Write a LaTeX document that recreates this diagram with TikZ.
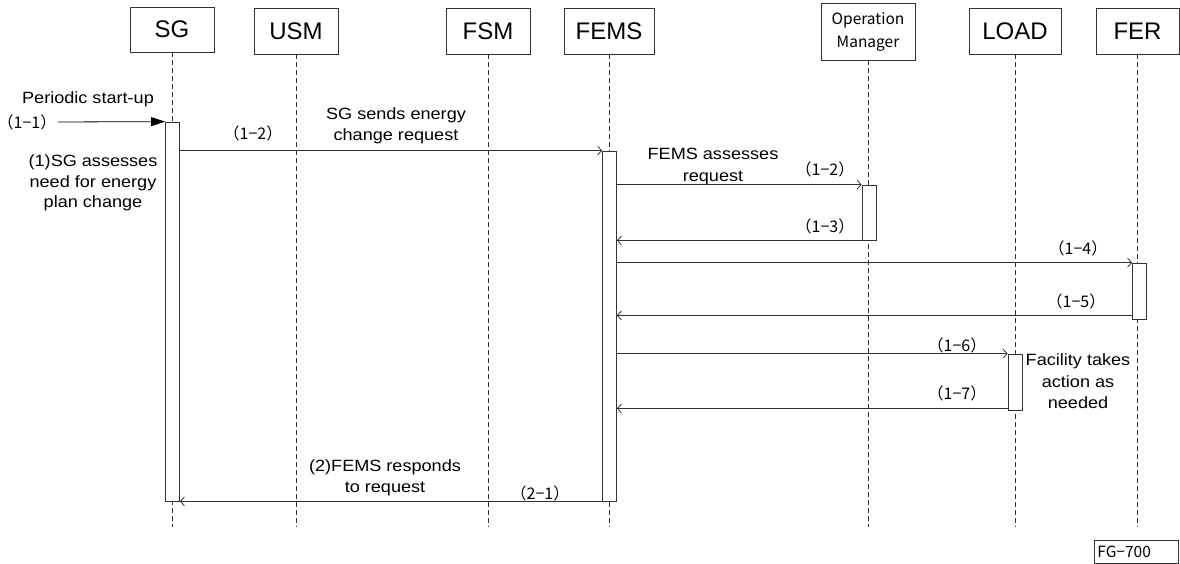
\documentclass[tikz,border=0pt]{standalone}
\usepackage{fontspec}
\setmainfont{Liberation Sans}
\newfontfamily\widefont[FakeStretch=1.11]{Liberation Sans}
\newfontfamily\cjk{Noto Sans CJK JP}
\usepackage{tikz}
\usetikzlibrary{arrows.meta}

\begin{document}
\begin{tikzpicture}[x=1pt,y=-1pt,
    actor/.style={draw=black!80,line width=0.8pt,minimum height=46pt,inner sep=0pt,font=\fontsize{24}{26}\selectfont},
    life/.style={draw=black!80,dash pattern=on 5pt off 3pt,line width=0.7pt},
    act/.style={draw=black!80,fill=white,line width=0.8pt,minimum width=14pt,inner sep=0pt},
    msg/.style={draw=black!80,line width=0.8pt,-{Straight Barb[length=4pt,width=9pt]}},
    note/.style={align=center,font=\widefont\fontsize{16.3}{21}\selectfont,inner sep=0pt},
    num/.style={font=\cjk\fontsize{16}{16}\selectfont,inner sep=0pt}]
\useasboundingbox (0,0) rectangle (1180,564);

% participants
\node[actor,minimum width=84pt,minimum height=45pt] (SG) at (172,29.5) {SG};
\node[actor,minimum width=84pt] (USM) at (296,31) {USM};
\node[actor,minimum width=84pt] (FSM) at (488,31) {FSM};
\node[actor,minimum width=90pt] (FEMS) at (609,31) {FEMS};
\node[actor,minimum width=94pt,minimum height=57pt,align=center,font=\cjk\fontsize{15.5}{23}\selectfont] (OM) at (868,31.5) {Operation\\Manager};
\node[actor,minimum width=92pt] (LOAD) at (1015,31) {LOAD};
\node[actor,minimum width=83pt] (FER) at (1137.5,31) {FER};

\coordinate (bot) at (0,527);
\foreach \p in {SG,USM,FSM,FEMS,OM,LOAD,FER}
    \draw[life] (\p.south) -- (\p |- bot);

% activations
\node[act,minimum height=379pt] (aSG) at (172.5,311.5) {};
\node[act,minimum height=350pt] (aFEMS) at (609.5,326) {};
\node[act,minimum height=55pt] (aOM) at (869,212.5) {};
\node[act,minimum height=56pt] (aFER) at (1139.5,291) {};
\node[act,minimum height=56pt] (aLOAD) at (1015,382) {};

% messages
\coordinate (start) at (58,122);
\draw[draw=black,line width=0.8pt,-{Triangle[length=14pt,width=9pt]}] (start) -- (aSG.north west);
\draw[msg] (aSG.east |- aFEMS.north west) -- (aFEMS.north west);
\draw[msg] (aFEMS.east |- aOM.north west) -- (aOM.north west);
\draw[msg] (aOM.south west) -- (aFEMS.east |- aOM.south west);
\draw[msg] (aFEMS.east |- aFER.north west) -- (aFER.north west);
\draw[msg] ([yshift=4pt]aFER.south west) coordinate (r15) -- (aFEMS.east |- r15);
\draw[msg] (aFEMS.east |- aLOAD.north west) -- (aLOAD.north west);
\draw[msg] ([yshift=2pt]aLOAD.south west) coordinate (r17) -- (aFEMS.east |- r17);
\draw[msg] (aFEMS.south west) -- (aSG.south east);

% labels
\node[note] (tStart) at (88,99) {Periodic start-up};
\node[num] (n11) at (27,122) {（1−1）};
\node[note,font=\widefont\fontsize{16.3}{20.5}\selectfont] (tSG) at (93,183) {(1)SG assesses\\need for energy\\plan change};
\node[num] (n12a) at (253,133) {（1−2）};
\node[note] (tSend) at (396,126) {SG sends energy\\change request};
\node[note,font=\widefont\fontsize{16.3}{22}\selectfont] (tFEMS) at (713,167) {FEMS assesses\\request};
\node[num] (n12b) at (825,169) {（1−2）};
\node[num] (n13) at (825,226) {（1−3）};
\node[num] (n14) at (1078,248) {（1−4）};
\node[num] (n15) at (1076,301) {（1−5）};
\node[num] (n16) at (957,345) {（1−6）};
\node[num] (n17) at (957,393) {（1−7）};
\node[note,font=\widefont\fontsize{16.3}{21.5}\selectfont] (tFac) at (1078,381.5) {Facility takes\\action as\\needed};
\node[note] (tResp) at (385,477.5) {(2)FEMS responds\\to request};
\node[num] (n21) at (540,493) {（2−1）};

\node[draw=black!80,line width=0.8pt,anchor=north west,minimum height=23pt,text width=78pt,align=left,inner sep=3pt,font=\cjk\fontsize{15.5}{15.5}\selectfont] (fig) at (1094,540) {FG−700};
\end{tikzpicture}
\end{document}
